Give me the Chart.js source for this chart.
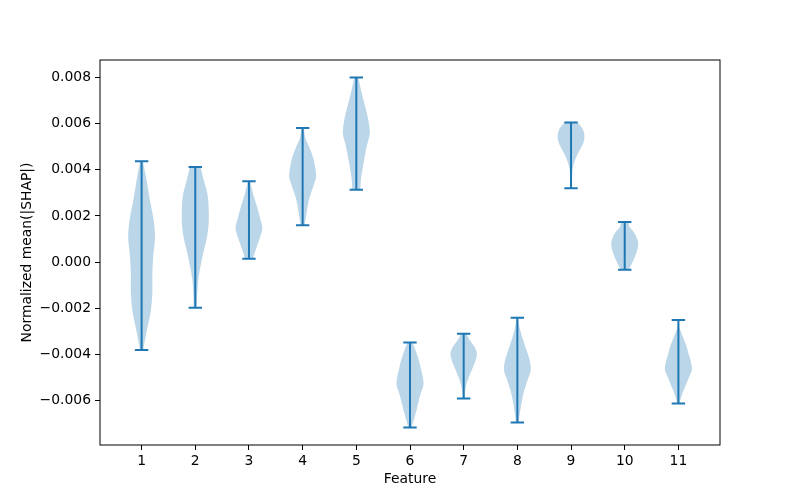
<!DOCTYPE html>
<html>
<head>
<meta charset="utf-8">
<script src="https://cdn.jsdelivr.net/npm/chart.js@4.4.0/dist/chart.umd.min.js"></script>
<style>
    html, body { margin: 0; padding: 0; background: #fff; }
    #wrap { width: 800px; height: 500px; }
</style>
</head>
<body>
<div id="wrap"><canvas id="violinChart" width="800" height="500"></canvas></div>
<script>
// feature positions and the extent of each violin (min / max of the data)
const features = [1, 2, 3, 4, 5, 6, 7, 8, 9, 10, 11];
const mins = [-0.00381, -0.00198, 0.00014, 0.00160, 0.00313, -0.00717, -0.00591, -0.00695, 0.00320, -0.00033, -0.00613];
const maxs = [0.00437, 0.00412, 0.00350, 0.00581, 0.00800, -0.00349, -0.00311, -0.00241, 0.00605, 0.00174, -0.00251];

// relative density (1 = widest) at 11 even steps from min up to max
const shapes = [
    [0.12, 0.38, 0.67, 0.80, 0.80, 0.87, 1.00, 0.87, 0.60, 0.37, 0.10],
    [0.10, 0.15, 0.22, 0.40, 0.62, 0.87, 1.00, 1.00, 0.92, 0.65, 0.40],
    [0.30, 0.47, 0.67, 0.87, 1.00, 0.87, 0.72, 0.55, 0.37, 0.22, 0.10],
    [0.15, 0.27, 0.38, 0.55, 0.80, 1.00, 0.93, 0.77, 0.50, 0.20, 0.10],
    [0.30, 0.35, 0.48, 0.63, 0.80, 1.00, 0.93, 0.75, 0.53, 0.33, 0.15],
    [0.12, 0.30, 0.48, 0.63, 0.80, 1.00, 0.95, 0.80, 0.65, 0.43, 0.20],
    [0.08, 0.10, 0.18, 0.33, 0.52, 0.72, 0.90, 0.98, 0.80, 0.45, 0.20],
    [0.10, 0.20, 0.33, 0.50, 0.75, 1.00, 0.90, 0.65, 0.40, 0.18, 0.05],
    [0.04, 0.05, 0.08, 0.12, 0.25, 0.45, 0.70, 0.93, 1.00, 0.87, 0.50],
    [0.30, 0.47, 0.65, 0.80, 0.92, 1.00, 0.98, 0.85, 0.65, 0.35, 0.30],
    [0.08, 0.25, 0.50, 0.75, 1.00, 0.93, 0.75, 0.58, 0.33, 0.10, 0.03]
];

const yTicks = [-0.006, -0.004, -0.002, 0.000, 0.002, 0.004, 0.006, 0.008];

const halfWidth = 0.25;   // violin widths = 0.5
const capHalf = 0.125;
const blue = "#1f77b4";
const bodyFill = "rgba(31, 119, 180, 0.3)";

// axis limits with 5% margins like matplotlib
const yLo = Math.min(...mins), yHi = Math.max(...maxs);
const yPad = 0.05 * (yHi - yLo);
const xLo = features[0] - halfWidth, xHi = features[features.length - 1] + halfWidth;
const xPad = 0.05 * (xHi - xLo);

function curveThrough(ctx, pts) {
    for (let k = 0; k < pts.length - 1; k++) {
        const p0 = pts[Math.max(k - 1, 0)], p1 = pts[k], p2 = pts[k + 1];
        const p3 = pts[Math.min(k + 2, pts.length - 1)];
        ctx.bezierCurveTo(
            p1.x + (p2.x - p0.x) / 6, p1.y + (p2.y - p0.y) / 6,
            p2.x - (p3.x - p1.x) / 6, p2.y - (p3.y - p1.y) / 6,
            p2.x, p2.y
        );
    }
}

const violinPlugin = {
    id: "violins",
    afterDatasetsDraw(chart) {
        const { ctx, chartArea, scales: { x, y } } = chart;
        ctx.save();
        ctx.beginPath();
        ctx.rect(chartArea.left, chartArea.top, chartArea.width, chartArea.height);
        ctx.clip();

        features.forEach((f, i) => {
            const w = shapes[i];
            const n = w.length - 1;
            const yAt = k => y.getPixelForValue(mins[i] + (maxs[i] - mins[i]) * k / n);
            const right = w.map((r, k) => ({ x: x.getPixelForValue(f + r * halfWidth), y: yAt(k) }));
            const left = w.map((r, k) => ({ x: x.getPixelForValue(f - r * halfWidth), y: yAt(k) })).reverse();

            ctx.beginPath();
            ctx.moveTo(right[0].x, right[0].y);
            curveThrough(ctx, right);
            ctx.lineTo(left[0].x, left[0].y);
            curveThrough(ctx, left);
            ctx.closePath();
            ctx.fillStyle = bodyFill;
            ctx.fill();
        });

        // min-max bars and caps
        ctx.strokeStyle = blue;
        ctx.lineWidth = 2;
        features.forEach((f, i) => {
            const cx = x.getPixelForValue(f);
            const yTop = y.getPixelForValue(maxs[i]);
            const yBot = y.getPixelForValue(mins[i]);
            const l = x.getPixelForValue(f - capHalf), r = x.getPixelForValue(f + capHalf);
            ctx.beginPath();
            ctx.moveTo(cx, yTop); ctx.lineTo(cx, yBot);
            ctx.moveTo(l, yTop); ctx.lineTo(r, yTop);
            ctx.moveTo(l, yBot); ctx.lineTo(r, yBot);
            ctx.stroke();
        });
        ctx.restore();

        // axes frame
        ctx.save();
        ctx.strokeStyle = "#000";
        ctx.lineWidth = 1;
        ctx.strokeRect(chartArea.left, chartArea.top, chartArea.width, chartArea.height);
        ctx.restore();
    }
};

Chart.defaults.font.family = "'DejaVu Sans', sans-serif";
Chart.defaults.font.size = 13.9;
Chart.defaults.color = "#000";

document.addEventListener("DOMContentLoaded", function() {
    const ctx = document.getElementById("violinChart").getContext("2d");

    new Chart(ctx, {
        type: "scatter",
        data: { datasets: [] },
        options: {
            responsive: false,
            animation: false,
            layout: { padding: { left: 0, top: 60, right: 80, bottom: 0 } },
            plugins: { legend: { display: false }, tooltip: { enabled: false } },
            scales: {
                x: {
                    type: "linear",
                    min: xLo - xPad,
                    max: xHi + xPad,
                    afterBuildTicks: s => { s.ticks = features.map(v => ({ value: v })); },
                    afterFit: s => { s.height = 55; },
                    ticks: { padding: 3, maxRotation: 0, callback: v => String(v) },
                    grid: { drawOnChartArea: false, drawTicks: true, tickLength: 5, color: "#000" },
                    border: { display: false },
                    title: { display: true, text: "Feature", padding: { top: 0, bottom: 12 } }
                },
                y: {
                    type: "linear",
                    min: yLo - yPad,
                    max: yHi + yPad,
                    afterBuildTicks: s => { s.ticks = yTicks.map(v => ({ value: v })); },
                    afterFit: s => { s.width = 100; },
                    ticks: {
                        padding: 4,
                        callback: v => (v < -1e-12 ? "\u2212" : "") + Math.abs(v).toFixed(3)
                    },
                    grid: { drawOnChartArea: false, drawTicks: true, tickLength: 5, color: "#000" },
                    border: { display: false },
                    title: { display: true, text: "Normalized mean(|SHAP|)", padding: { top: 19, bottom: 0 } }
                }
            }
        },
        plugins: [violinPlugin]
    });
});
</script>
</body>
</html>
